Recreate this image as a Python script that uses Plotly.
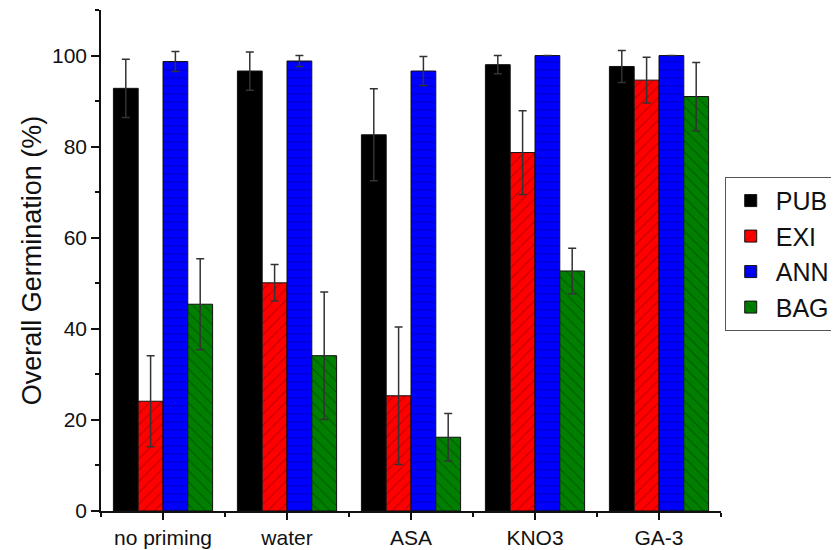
import plotly.graph_objects as go

categories = ["no priming", "water", "ASA", "KNO3", "GA-3"]
series_names = ["PUB", "EXI", "ANN", "BAG"]
pub = [92.8, 96.6, 82.6, 98.0, 97.6]
pub_err = [6.4, 4.2, 10.1, 2.0, 3.5]
exi = [24.1, 50.1, 25.3, 78.7, 94.6]
exi_err = [10.0, 4.0, 15.1, 9.2, 5.0]
ann = [98.7, 98.8, 96.6, 100.0, 100.0]
ann_err = [2.2, 1.2, 3.2, 0.0, 0.0]
bag = [45.4, 34.1, 16.2, 52.7, 91.0]
bag_err = [10.0, 14.0, 5.2, 5.0, 7.5]

values = [pub, exi, ann, bag]
errors = [pub_err, exi_err, ann_err, bag_err]
colors = ["#000000", "#FF0000", "#0000FF", "#007F00"]
patterns = ["", "/", "-", "\\"]
pattern_fg = ["#000000", "#7A0000", "#00007A", "#003300"]

xpos = list(range(len(categories)))

fig = go.Figure()
for name, v, e, c, p, fg in zip(series_names, values, errors, colors, patterns, pattern_fg):
    fig.add_trace(go.Bar(
        name=name, x=xpos, y=v,
        marker=dict(color=c, line=dict(color="#111111", width=1),
                    pattern=dict(shape=p, fgcolor=fg, fgopacity=0.55, size=8, solidity=0.12)),
        error_y=dict(type="data", array=e, visible=True, color="#333333", thickness=1.5, width=4),
    ))

# page body has an 8px default margin, so the figure is offset by 8px
fig.update_layout(
    width=839, height=550,
    margin=dict(l=93, r=126, t=2, b=47, autoexpand=False),
    paper_bgcolor="white", plot_bgcolor="white",
    barmode="group", bargap=0.2, bargroupgap=0,
    font=dict(family="Liberation Sans, Arial, sans-serif", color="#111111"),
    legend=dict(x=1.006, xanchor="left", y=0.667, yanchor="top",
                bordercolor="#555555", borderwidth=1, itemwidth=40,
                font=dict(size=25, color="#111111"), tracegroupgap=0),
    showlegend=True,
)
fig.update_xaxes(
    range=[-0.5, 4.5], tickmode="array", tickvals=xpos, ticktext=categories,
    showline=True, linecolor="#111111", linewidth=1.5, showgrid=False, zeroline=False,
    ticks="outside", ticklen=7, tickwidth=1.5, tickcolor="#111111",
    tickfont=dict(size=21),
    minor=dict(tickmode="array", tickvals=[i - 0.5 for i in range(len(categories) + 1)],
               ticks="outside", ticklen=4, tickwidth=1.5, tickcolor="#111111"),
)
fig.update_yaxes(
    range=[0, 110], tick0=0, dtick=20,
    showline=True, linecolor="#111111", linewidth=1.5, showgrid=False, zeroline=False,
    ticks="outside", ticklen=8, tickwidth=1.5, tickcolor="#111111",
    tickfont=dict(size=21),
    minor=dict(dtick=10, ticks="outside", ticklen=4, tickwidth=1.5, tickcolor="#111111", showgrid=False),
    title=dict(text="Overall Germination (%)", font=dict(size=27), standoff=3),
)

fig.write_html("out.html")
